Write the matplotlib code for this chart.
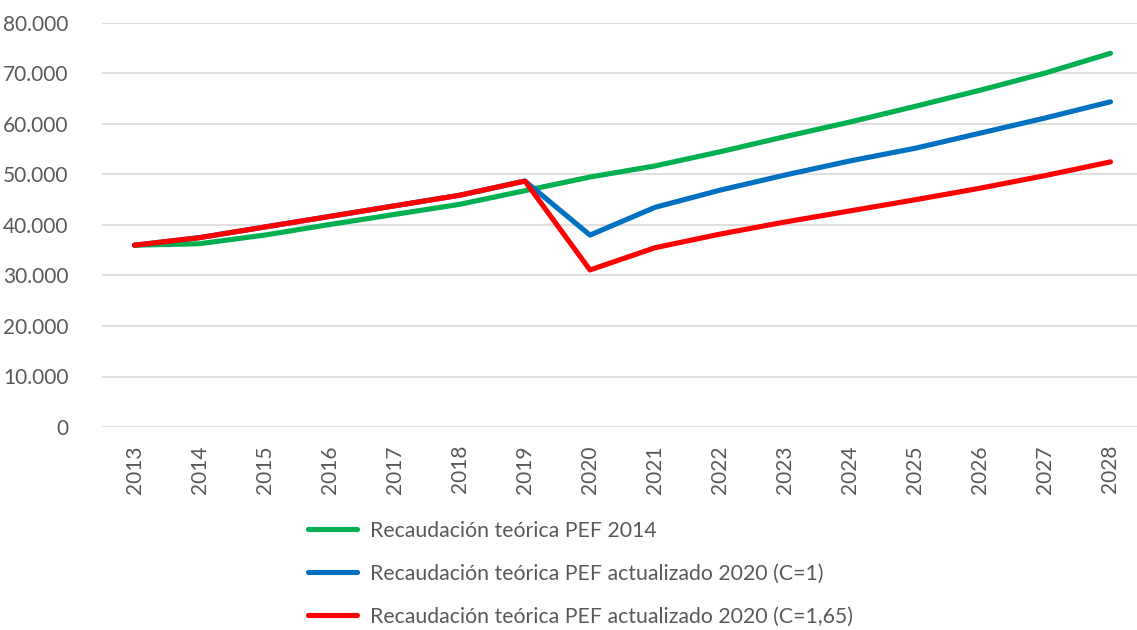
import matplotlib.pyplot as plt
from matplotlib.ticker import FuncFormatter

years = [str(y) for y in range(2013, 2029)]

# Recaudación teórica
pef_2014 = [36000, 36300, 38000, 40100, 42100, 44100, 46800, 49500,
            51700, 54500, 57500, 60400, 63500, 66700, 70100, 74000]
pef_2020_c1 = [36000, 37500, 39600, 41700, 43800, 45900, 48700, 38000,
               43500, 46900, 49900, 52700, 55200, 58200, 61200, 64400]
pef_2020_c165 = [36000, 37500, 39600, 41700, 43800, 45900, 48700, 31100,
                 35500, 38200, 40600, 42800, 45000, 47300, 49800, 52500]

labels = ['Recaudación teórica PEF 2014',
          'Recaudación teórica PEF actualizado 2020 (C=1)',
          'Recaudación teórica PEF actualizado 2020 (C=1,65)']
colors = ['#00B050', '#0070C0', '#FF0000']

plt.rcParams['font.family'] = ['Lato', 'DejaVu Sans']
text_color = '#595959'

fig = plt.figure(figsize=(11.37, 6.3), dpi=100)
ax = fig.add_axes([102 / 1137, 203 / 630, 1041 / 1137, 404 / 630])

x = range(len(years))
for series, label, color in zip([pef_2014, pef_2020_c1, pef_2020_c165], labels, colors):
    ax.plot(x, series, color=color, linewidth=3.7, label=label,
            solid_capstyle='round', solid_joinstyle='round')

ax.set_xlim(-0.5, len(years) - 0.5)
ax.set_ylim(0, 80000)
ax.set_yticks(range(0, 80001, 10000))
ax.yaxis.set_major_formatter(FuncFormatter(lambda v, p: f"{int(v):,}".replace(',', '.')))
ax.set_xticks(list(x))
ax.set_xticklabels(years, rotation=90)

ax.grid(axis='y', color='#D9D9D9', linewidth=1.2)
ax.set_axisbelow(True)
for s in ax.spines.values():
    s.set_visible(False)
ax.tick_params(axis='both', length=0, labelsize=15, colors=text_color)
ax.tick_params(axis='y', pad=24)
ax.tick_params(axis='x', pad=13)

leg = fig.legend(loc='upper left', bbox_to_anchor=(297 / 1137, 1 - 510 / 630),
                 frameon=False, fontsize=15.3, handlelength=2.3, handletextpad=0.65,
                 labelspacing=1.08, borderpad=0)
for t in leg.get_texts():
    t.set_color(text_color)

fig.savefig('out.png', dpi=100)
